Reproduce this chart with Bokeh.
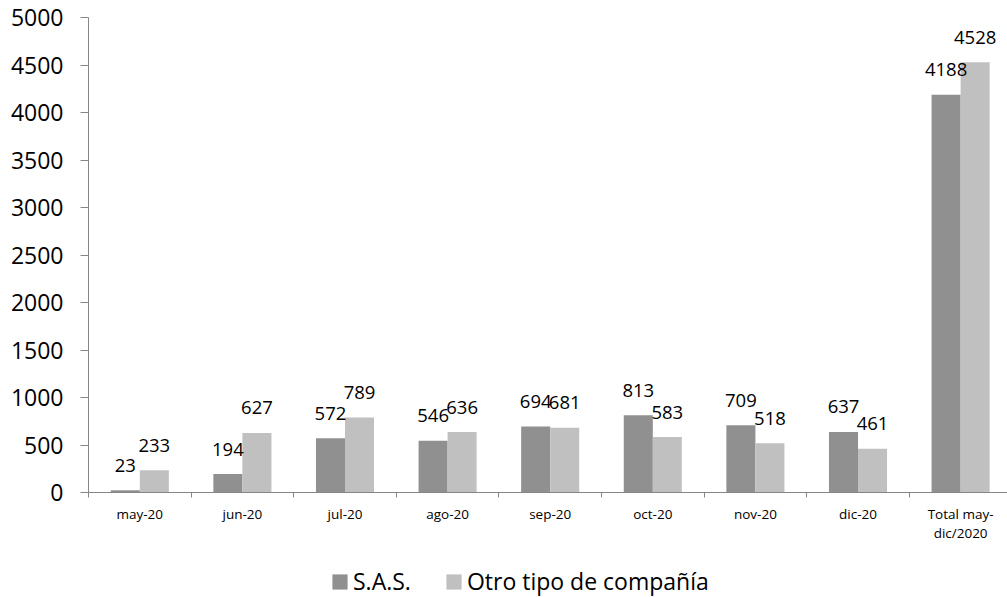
from bokeh.plotting import figure
from bokeh.layouts import column
from bokeh.models import ColumnDataSource, Range1d, FixedTicker, Legend, LegendItem
from bokeh.core.properties import value
from bokeh.embed import file_html
from bokeh.resources import INLINE
import numpy as np

categories = ["may-20", "jun-20", "jul-20", "ago-20", "sep-20", "oct-20", "nov-20", "dic-20", "Total may-\ndic/2020"]
sas = [23, 194, 572, 546, 694, 813, 709, 637, 4188]
otro = [233, 627, 789, 636, 681, 583, 518, 461, 4528]
series_names = ["S.A.S.", "Otro tipo de compañía"]
y_ticks = list(range(0, 5001, 500))

FONT = "Open Sans"
DARK = "#909090"
LIGHT = "#c0c0c0"
AXIS = "#868686"

xs = np.arange(1, len(categories) + 1)
bw = 0.283
src = ColumnDataSource(dict(
    x1=xs - bw / 2, x2=xs + bw / 2,
    sas=sas, otro=otro,
    sas_t=[str(v) for v in sas], otro_t=[str(v) for v in otro],
))

p = figure(width=1007, height=560, output_backend="svg", toolbar_location=None,
           x_range=Range1d(0.5, 9.457), y_range=Range1d(0, 5000),
           min_border_left=88, min_border_right=0, min_border_top=17, min_border_bottom=68)
p.outline_line_color = None
p.grid.grid_line_color = None

p.vbar(x="x1", top="sas", width=bw, source=src, fill_color=DARK, line_color=None)
p.vbar(x="x2", top="otro", width=bw, source=src, fill_color=LIGHT, line_color=None)

for xcol, tcol, ycol in (("x1", "sas_t", "sas"), ("x2", "otro_t", "otro")):
    p.text(x=xcol, y=ycol, text=tcol, source=src, text_align="center",
           text_baseline="alphabetic", y_offset=-25, text_font=value(FONT),
           text_font_size="18.5px", text_color="black")

# y axis
ya = p.yaxis[0]
ya.ticker = FixedTicker(ticks=y_ticks)
ya.axis_line_color = AXIS
ya.major_tick_line_color = AXIS
ya.major_tick_in = 0
ya.major_tick_out = 8
ya.minor_tick_line_color = None
ya.major_label_text_font = FONT
ya.major_label_text_font_size = "23px"
ya.major_label_text_color = "black"
ya.major_label_standoff = 17

# x axis
xa = p.xaxis[0]
xa.ticker = FixedTicker(ticks=list(xs), minor_ticks=[i + 0.5 for i in range(len(categories) + 1)])
xa.major_label_overrides = {int(i): c for i, c in zip(xs, categories)}
xa.axis_line_color = AXIS
xa.major_tick_line_color = None
xa.major_tick_in = 0
xa.major_tick_out = 0
xa.minor_tick_line_color = AXIS
xa.minor_tick_in = 0
xa.minor_tick_out = 5
xa.major_label_text_font = FONT
xa.major_label_text_font_size = "13.5px"
xa.major_label_text_color = "black"
xa.major_label_text_line_height = 1.09
xa.major_label_standoff = 7

# legend strip
p2 = figure(width=1007, height=37, output_backend="svg", toolbar_location=None,
            x_axis_type=None, y_axis_type=None, min_border=0,
            x_range=Range1d(0, 1), y_range=Range1d(0, 1))
p2.outline_line_color = None
p2.grid.grid_line_color = None
g1 = p2.vbar(x="x1", top="sas", width=bw, source=src, fill_color=DARK, line_color=None, visible=False)
g2 = p2.vbar(x="x2", top="otro", width=bw, source=src, fill_color=LIGHT, line_color=None, visible=False)
legend = Legend(items=[LegendItem(label=series_names[0], renderers=[g1]),
                       LegendItem(label=series_names[1], renderers=[g2])],
                orientation="horizontal", location=(242, 0),
                glyph_width=19, glyph_height=19, label_standoff=4, spacing=33,
                label_text_font=FONT, label_text_font_size="23px",
                label_text_color="black", border_line_color=None,
                background_fill_alpha=0, padding=0, margin=0, label_height=15)
p2.add_layout(legend, "center")

open("out.html", "w").write(file_html(column(p, p2, spacing=0), INLINE))
